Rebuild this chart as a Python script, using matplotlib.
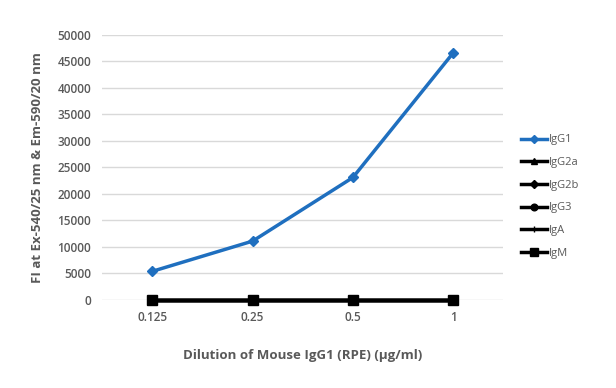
import matplotlib.pyplot as plt

plt.rcParams['font.family'] = ['Open Sans', 'DejaVu Sans']

dilutions = ["0.125", "0.25", "0.5", "1"]
igg1 = [5400, 11100, 23100, 46600]
igg2a = [0, 0, 0, 0]
igg2b = [0, 0, 0, 0]
igg3 = [0, 0, 0, 0]
iga = [0, 0, 0, 0]
igm = [0, 0, 0, 0]

grey = '#595959'

fig = plt.figure(figsize=(6.16, 3.88), dpi=100)
ax = fig.add_axes([0.166, 0.227, 0.651, 0.683])

x = range(len(dilutions))
ax.plot(x, igg1, color='#1f6fbf', lw=2.5, marker='D', ms=5, label='IgG1', zorder=5, clip_on=False)
ax.plot(x, igg2a, color='black', lw=2.5, marker='^', ms=6, label='IgG2a', clip_on=False)
ax.plot(x, igg2b, color='black', lw=2.5, marker='D', ms=5, label='IgG2b', clip_on=False)
ax.plot(x, igg3, color='black', lw=2.5, marker='o', ms=6, label='IgG3', clip_on=False)
ax.plot(x, iga, color='black', lw=2.5, marker='+', ms=5, label='IgA', clip_on=False)
ax.plot(x, igm, color='black', lw=2.5, marker='s', ms=7, label='IgM', clip_on=False)

ax.set_xlim(-0.5, 3.5)
ax.set_ylim(0, 50000)
ax.set_yticks(range(0, 50001, 5000))
ax.set_xticks(list(x))
ax.set_xticklabels(dilutions)
ax.grid(axis='y', color='#d9d9d9', lw=1)
ax.set_axisbelow(True)
for s in ['top', 'right', 'left', 'bottom']:
    ax.spines[s].set_visible(False)
ax.tick_params(length=0, colors=grey, labelsize=8.5, pad=8)
for t in ax.get_xticklabels() + ax.get_yticklabels():
    t.set_fontweight('semibold')

ax.set_ylabel("FI at Ex-540/25 nm & Em-590/20 nm", color=grey, fontsize=9.5,
              fontweight='bold', labelpad=10)
ax.set_xlabel("Dilution of Mouse IgG1 (RPE) (\u00b5g/ml)", color=grey, fontsize=9.5,
              fontweight='bold', labelpad=18)

leg = ax.legend(loc='center left', bbox_to_anchor=(1.02, 0.39), frameon=False,
                fontsize=8, handlelength=2.3, labelspacing=1.05, handletextpad=0.15,
                markerscale=0.8)
for t in leg.get_texts():
    t.set_color(grey)

fig.savefig('out.png', dpi=100)
